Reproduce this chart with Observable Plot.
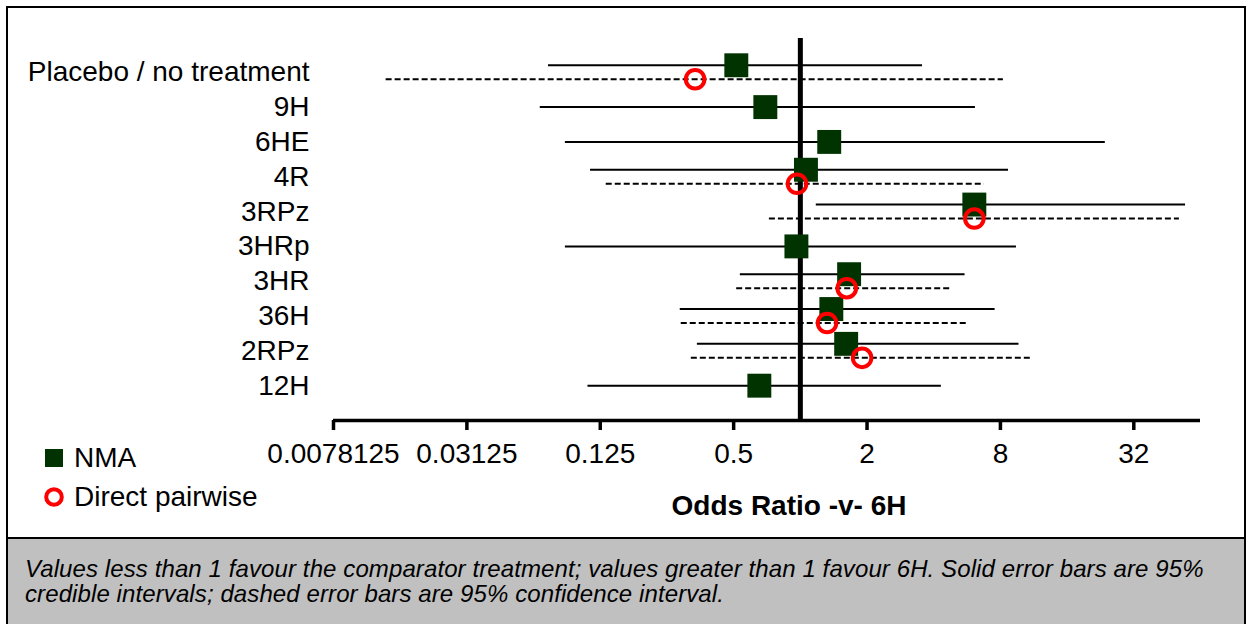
<!DOCTYPE html>
<html>
<head>
<meta charset="utf-8">
<script src="https://cdn.jsdelivr.net/npm/d3@7"></script>
<script src="https://cdn.jsdelivr.net/npm/@observablehq/plot@0.6"></script>
<style>
  body { margin: 0; background: #fff; font-family: "Liberation Sans", Arial, sans-serif; }
  #page { position: relative; width: 1252px; height: 624px; overflow: hidden; }
  #chart { position: absolute; left: 0; top: 0; }
  #frame { position: absolute; left: 6px; top: 6px; width: 1240px; height: 640px; border: 2px solid #000; box-sizing: border-box; }
  #caption { position: absolute; left: 8px; top: 537px; width: 1236px; height: 100px; background: #c0c0c0; border-top: 2px solid #000;
    font-style: italic; font-size: 24px; line-height: 25px; padding: 17px 0 0 17px; box-sizing: border-box; color: #000; white-space: nowrap; letter-spacing: 0.1px; }
  .legend { position: absolute; left: 44px; font-size: 28px; display: flex; align-items: center; color: #000; }
  .legend svg { margin-right: 10px; }
</style>
</head>
<body>
<div id="page">
  <div id="chart"></div>
  <div id="frame"></div>
  <div class="legend" style="top:442px"><svg width="20" height="20"><rect x="1" y="1" width="18" height="18" fill="#003300"/></svg>NMA</div>
  <div class="legend" style="top:481px"><svg width="20" height="20"><circle cx="10" cy="10" r="7.8" fill="none" stroke="#ff0000" stroke-width="4"/></svg>Direct pairwise</div>
  <div id="caption">Values less than 1 favour the comparator treatment; values greater than 1 favour 6H. Solid error bars are 95%<br>credible intervals; dashed error bars are 95% confidence interval.</div>
</div>
<script>
// treatments, top to bottom
const treatments = ["Placebo / no treatment", "9H", "6HE", "4R", "3RPz", "3HRp", "3HR", "36H", "2RPz", "12H"];

// network meta-analysis odds ratios vs 6H, with 95% credible interval
const nmaOR = [0.514, 0.695, 1.35, 1.06, 6.1, 0.96, 1.66, 1.38, 1.61, 0.653];
const nmaLow = [0.073, 0.067, 0.087, 0.113, 1.18, 0.087, 0.536, 0.287, 0.343, 0.110];
const nmaHigh = [3.56, 6.17, 23.8, 8.7, 54.8, 9.45, 5.54, 7.57, 9.7, 4.33];

// direct pairwise odds ratios, with 95% confidence interval
const directTreatments = ["Placebo / no treatment", "4R", "3RPz", "3HR", "36H", "2RPz"];
const directOR = [0.335, 0.966, 6.1, 1.62, 1.32, 1.90];
const directLow = [0.0135, 0.133, 0.725, 0.516, 0.29, 0.322];
const directHigh = [8.25, 6.77, 51.4, 4.81, 5.76, 11.1];

const xTicks = [0.0078125, 0.03125, 0.125, 0.5, 2, 8, 32];
const xLabel = "Odds Ratio -v- 6H";

const nma = treatments.map((t, i) => ({
  row: i, name: t, or: nmaOR[i], lo: nmaLow[i], hi: nmaHigh[i],
  both: directTreatments.includes(t)
}));
const direct = directTreatments.map((t, i) => ({
  row: treatments.indexOf(t), name: t, or: directOR[i], lo: directLow[i], hi: directHigh[i]
}));

const single = d => !d.both;
const paired = d => d.both;

const chart = Plot.plot({
  width: 1252,
  height: 537,
  marginTop: 38,
  marginBottom: 117,
  marginLeft: 333,
  marginRight: 52,
  style: { fontFamily: "'Liberation Sans', Arial, sans-serif", fontSize: "28px", color: "#000", background: "transparent" },
  x: { type: "log", base: 2, domain: [2 ** -7, 64] },
  y: { domain: [-0.97, 10], reverse: true },
  marks: [
    // axis baseline and no-effect line
    Plot.ruleY([10], { stroke: "#000", strokeWidth: 3.5 }),
    Plot.ruleX([1], { stroke: "#000", strokeWidth: 5 }),
    // credible intervals
    Plot.ruleY(nma, { filter: single, y: "row", x1: "lo", x2: "hi", stroke: "#000", strokeWidth: 2 }),
    Plot.ruleY(nma, { filter: paired, y: "row", x1: "lo", x2: "hi", stroke: "#000", strokeWidth: 2, dy: -7 }),
    // confidence intervals
    Plot.ruleY(direct, { y: "row", x1: "lo", x2: "hi", stroke: "#000", strokeWidth: 2, strokeDasharray: "6,3", dy: 7 }),
    Plot.dot(nma, { filter: single, x: "or", y: "row", symbol: "square", r: 13.5, fill: "#003300" }),
    Plot.dot(nma, { filter: paired, x: "or", y: "row", symbol: "square", r: 13.5, fill: "#003300", dy: -7 }),
    Plot.dot(direct, { x: "or", y: "row", r: 9.3, fill: "none", stroke: "#ff0000", strokeWidth: 4, dy: 7 }),
    Plot.axisY({ ticks: d3.range(treatments.length), tickFormat: i => treatments[i], tickSize: 0, tickPadding: 24, fontSize: 28, label: null }),
    Plot.axisX({ ticks: xTicks, tickFormat: d => String(d), tickSize: 10, tickPadding: 13, strokeWidth: 3.5, fontSize: 28, label: null }),
    Plot.text([xLabel], { text: d => d, frameAnchor: "bottom", dx: 22, dy: 94, fontWeight: "bold", fontSize: 28 })
  ]
});

document.getElementById("chart").append(chart);
</script>
</body>
</html>
